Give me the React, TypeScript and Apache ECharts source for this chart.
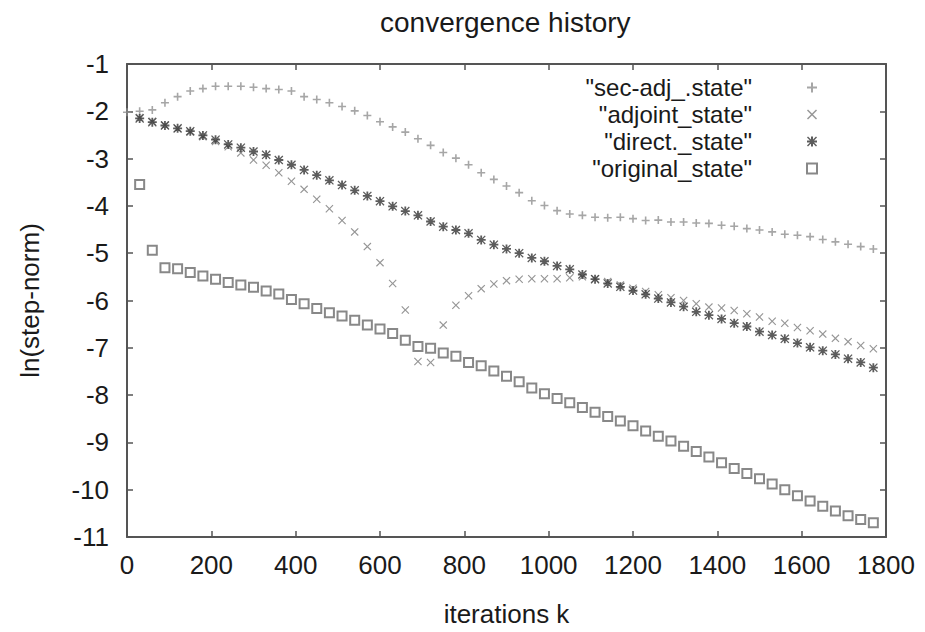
import React, { useEffect, useRef } from 'react';
import * as echarts from 'echarts';

const TITLE = 'convergence history';
const X_NAME = 'iterations k';
const Y_NAME = 'ln(step-norm)';

const ITERATIONS = [
  0, 30, 60, 90, 120, 150, 180, 210, 240, 270,
  300, 330, 360, 390, 420, 450, 480, 510, 540, 570,
  600, 630, 660, 690, 720, 750, 780, 810, 840, 870,
  900, 930, 960, 990, 1020, 1050, 1080, 1110, 1140, 1170,
  1200, 1230, 1260, 1290, 1320, 1350, 1380, 1410, 1440, 1470,
  1500, 1530, 1560, 1590, 1620, 1650, 1680, 1710, 1740, 1770,
];

const SEC_ADJ_STATE = [
  -2.02, -2.0, -1.97, -1.82, -1.69, -1.57, -1.52, -1.47, -1.47, -1.47,
  -1.49, -1.52, -1.54, -1.57, -1.69, -1.75, -1.82, -1.9, -1.99, -2.09,
  -2.22, -2.33, -2.44, -2.58, -2.72, -2.87, -2.99, -3.13, -3.3, -3.44,
  -3.58, -3.72, -3.89, -3.99, -4.1, -4.17, -4.2, -4.24, -4.25, -4.24,
  -4.27, -4.31, -4.3, -4.34, -4.34, -4.36, -4.37, -4.41, -4.43, -4.48,
  -4.51, -4.55, -4.6, -4.62, -4.65, -4.71, -4.76, -4.81, -4.86, -4.91,
];

const ADJOINT_STATE = [
  null, -2.13, -2.21, -2.29, -2.37, -2.44, -2.54, -2.64, -2.75, -2.88,
  -3.03, -3.14, -3.3, -3.48, -3.65, -3.86, -4.06, -4.31, -4.55, -4.86,
  -5.2, -5.64, -6.2, -7.29, -7.31, -6.52, -6.1, -5.9, -5.75, -5.65,
  -5.58, -5.55, -5.54, -5.54, -5.54, -5.52, -5.5, -5.54, -5.6, -5.67,
  -5.74, -5.81, -5.88, -5.94, -6.0, -6.07, -6.14, -6.16, -6.21, -6.28,
  -6.35, -6.44, -6.48, -6.57, -6.64, -6.71, -6.8, -6.87, -6.95, -7.02,
];

const DIRECT_STATE = [
  null, -2.15, -2.23, -2.3, -2.36, -2.42, -2.51, -2.6, -2.7, -2.77,
  -2.85, -2.92, -3.03, -3.13, -3.24, -3.35, -3.46, -3.56, -3.67, -3.79,
  -3.9, -4.01, -4.11, -4.2, -4.33, -4.44, -4.51, -4.58, -4.72, -4.82,
  -4.91, -5.0, -5.1, -5.17, -5.27, -5.34, -5.45, -5.55, -5.64, -5.71,
  -5.79, -5.87, -5.96, -6.04, -6.13, -6.24, -6.31, -6.39, -6.48, -6.55,
  -6.66, -6.73, -6.81, -6.9, -6.99, -7.06, -7.14, -7.23, -7.31, -7.42,
];

const ORIGINAL_STATE = [
  null, -3.55, -4.94, -5.31, -5.33, -5.41, -5.48, -5.55, -5.62, -5.67,
  -5.72, -5.8, -5.86, -5.98, -6.07, -6.17, -6.26, -6.33, -6.42, -6.52,
  -6.6, -6.7, -6.84, -6.97, -7.01, -7.11, -7.18, -7.31, -7.38, -7.49,
  -7.6, -7.72, -7.85, -7.97, -8.07, -8.16, -8.26, -8.36, -8.45, -8.55,
  -8.65, -8.76, -8.87, -8.97, -9.08, -9.19, -9.31, -9.43, -9.55, -9.66,
  -9.77, -9.88, -10.0, -10.13, -10.24, -10.35, -10.45, -10.55, -10.63, -10.7,
];

const SERIES_NAMES = ['"sec-adj_.state"', '"adjoint_state"', '"direct._state"', '"original_state"'];

const X_MIN = 0;
const X_MAX = 1800;
const X_STEP = 200;
const Y_MIN = -11;
const Y_MAX = -1;
const Y_STEP = 1;

const FONT = "'Liberation Sans', Arial, Helvetica, sans-serif";
const TEXT_COLOR = '#1a1a1a';
const AXIS_COLOR = '#555';

const PLUS = 'path://M4,0H6V4H10V6H6V10H4V6H0V4H4Z';
const CROSS = 'path://M1,0L5,4L9,0L10,1L6,5L10,9L9,10L5,6L1,10L0,9L4,5L0,1Z';
const STAR = 'path://M4,0H6V4H10V6H6V10H4V6H0V4H4Z M1,0L5,4L9,0L10,1L6,5L10,9L9,10L5,6L1,10L0,9L4,5L0,1Z';

function pairs(values: (number | null)[]) {
  const out: [number, number][] = [];
  values.forEach((v, i) => {
    if (v !== null && v !== undefined) out.push([ITERATIONS[i], v]);
  });
  return out;
}

export default function App() {
  const ref = useRef<HTMLDivElement>(null);
  useEffect(() => {
    document.body.style.margin = '0';
    const chart = echarts.init(ref.current!, null, { renderer: 'svg' });
    const axisCommon = {
      axisLine: { show: true, onZero: false, lineStyle: { color: AXIS_COLOR, width: 2 } },
      axisTick: { show: true, inside: true, length: 6, lineStyle: { color: AXIS_COLOR, width: 1.5 } },
      splitLine: { show: false },
    };
    chart.setOption({
      animation: false,
      backgroundColor: '#ffffff',
      title: {
        text: TITLE,
        left: 380,
        top: 8,
        padding: 0,
        textStyle: { fontFamily: FONT, fontSize: 28, fontWeight: 'normal', color: TEXT_COLOR },
      },
      legend: {
        orient: 'vertical',
        align: 'right',
        right: 107,
        top: 74,
        itemWidth: 10,
        itemHeight: 10,
        itemGap: 0,
        padding: 0,
        selectedMode: false,
        data: SERIES_NAMES,
        textStyle: {
          fontFamily: FONT,
          fontSize: 24,
          color: TEXT_COLOR,
          lineHeight: 27,
          padding: [0, 50, 0, 0],
        },
      },
      grid: { left: 127, right: 39, top: 64, bottom: 86, containLabel: false },
      xAxis: [
        {
          type: 'value',
          min: X_MIN,
          max: X_MAX,
          interval: X_STEP,
          name: X_NAME,
          nameLocation: 'middle',
          nameGap: 64,
          nameTextStyle: { fontFamily: FONT, fontSize: 26, color: TEXT_COLOR },
          axisLabel: {
            fontFamily: FONT,
            fontSize: 26,
            color: TEXT_COLOR,
            margin: 15,
            formatter: (v: number) => String(v),
          },
          ...axisCommon,
        },
        {
          type: 'value',
          position: 'top',
          min: X_MIN,
          max: X_MAX,
          interval: X_STEP,
          axisLabel: { show: false },
          ...axisCommon,
        },
      ],
      yAxis: [
        {
          type: 'value',
          min: Y_MIN,
          max: Y_MAX,
          interval: Y_STEP,
          name: Y_NAME,
          nameLocation: 'middle',
          nameGap: 84,
          nameRotate: 90,
          nameTextStyle: { fontFamily: FONT, fontSize: 26, color: TEXT_COLOR },
          axisLabel: {
            fontFamily: FONT,
            fontSize: 26,
            color: TEXT_COLOR,
            margin: 18,
            formatter: (v: number) => String(v),
          },
          ...axisCommon,
        },
        {
          type: 'value',
          position: 'right',
          min: Y_MIN,
          max: Y_MAX,
          interval: Y_STEP,
          axisLabel: { show: false },
          ...axisCommon,
        },
      ],
      series: [
        {
          name: SERIES_NAMES[0],
          type: 'scatter',
          symbol: PLUS,
          symbolSize: 8,
          itemStyle: { color: '#909090' },
          data: pairs(SEC_ADJ_STATE),
        },
        {
          name: SERIES_NAMES[1],
          type: 'scatter',
          symbol: CROSS,
          symbolSize: 8,
          itemStyle: { color: '#7a7a7a' },
          data: pairs(ADJOINT_STATE),
        },
        {
          name: SERIES_NAMES[2],
          type: 'scatter',
          symbol: STAR,
          symbolSize: 9,
          itemStyle: { color: '#333333' },
          data: pairs(DIRECT_STATE),
        },
        {
          name: SERIES_NAMES[3],
          type: 'scatter',
          symbol: 'emptyRect',
          symbolSize: 9,
          itemStyle: { color: '#6a6a6a', borderWidth: 1.2 },
          data: pairs(ORIGINAL_STATE),
        },
      ],
    });
    return () => chart.dispose();
  }, []);
  return <div ref={ref} style={{ width: 925, height: 632 }} />;
}
